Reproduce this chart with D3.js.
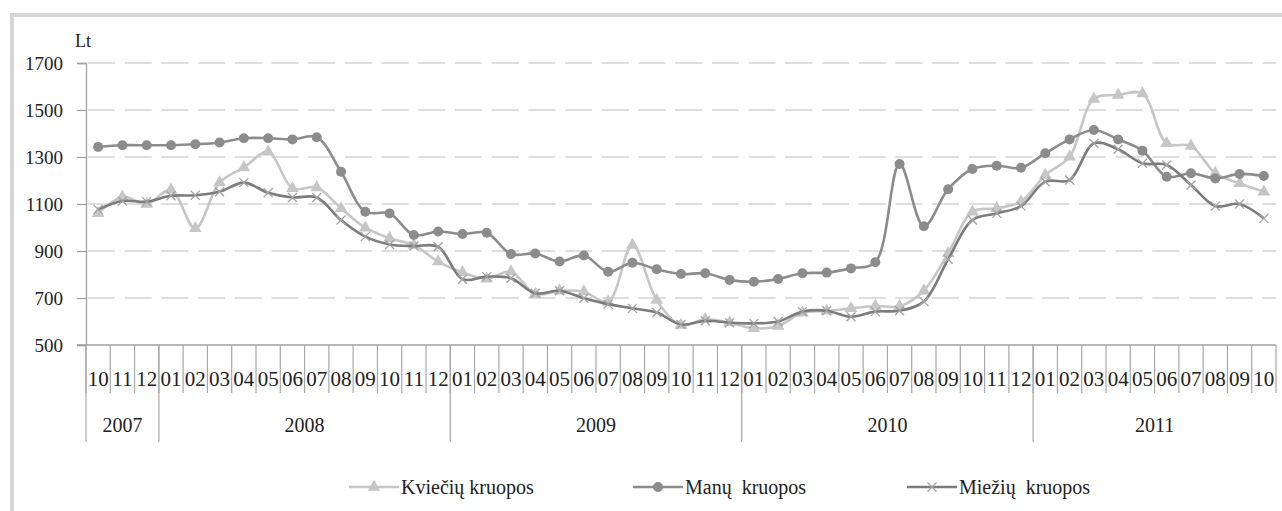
<!DOCTYPE html>
<html>
<head>
<meta charset="utf-8">
<script src="https://cdn.jsdelivr.net/npm/d3@7"></script>
<style>
  body { margin: 0; background: #fff; }
</style>
</head>
<body>
<svg width="1282" height="511"></svg>
<script>
let months = ["10","11","12",
  "01","02","03","04","05","06","07","08","09","10","11","12",
  "01","02","03","04","05","06","07","08","09","10","11","12",
  "01","02","03","04","05","06","07","08","09","10","11","12",
  "01","02","03","04","05","06","07","08","09","10"];

let years = [
  { label: "2007", start: 0, count: 3 },
  { label: "2008", start: 3, count: 12 },
  { label: "2009", start: 15, count: 12 },
  { label: "2010", start: 27, count: 12 },
  { label: "2011", start: 39, count: 10 }
];

let yTicks = [500, 700, 900, 1100, 1300, 1500, 1700];

let kvieciu = [1060, 1130, 1100, 1160, 996, 1191, 1255, 1322, 1167, 1170, 1082, 999, 954, 925, 855,
  809, 782, 812, 717, 731, 727, 684, 925, 691, 585, 609, 595,
  571, 581, 637, 645, 656, 666, 665, 731, 890, 1067, 1082, 1110,
  1223, 1301, 1547, 1564, 1570, 1358, 1347, 1231, 1188, 1152];

let manu = [1343, 1350, 1350, 1350, 1354, 1362, 1380, 1380, 1375, 1384, 1237, 1067, 1060, 968, 983,
  972, 978, 887, 889, 855, 881, 812, 850, 822, 802, 805, 777,
  769, 781, 805, 808, 826, 852, 1270, 1005, 1163, 1249, 1263, 1254,
  1316, 1375, 1415, 1375, 1327, 1216, 1231, 1209, 1228, 1219];

let miezu = [1077, 1113, 1110, 1135, 1137, 1152, 1191, 1148, 1128, 1128, 1032, 961, 928, 921, 918,
  780, 791, 784, 720, 731, 699, 674, 656, 638, 587, 603, 595,
  592, 600, 642, 646, 620, 642, 646, 685, 865, 1032, 1060, 1091,
  1195, 1202, 1358, 1333, 1273, 1266, 1181, 1091, 1100, 1039];

let series = [
  { name: "Kviečių kruopos", values: kvieciu, color: "#c6c6c6", marker: "triangle" },
  { name: "Manų  kruopos", values: manu, color: "#8c8c8c", marker: "circle" },
  { name: "Miežių  kruopos", values: miezu, color: "#7c7c7c", marker: "cross" }
];

const FONT = "'Liberation Serif', 'Times New Roman', Times, serif";

let svg = d3.select("svg");

// outer frame
svg.append("rect")
    .attr("x", 12).attr("y", 15)
    .attr("width", 1300).attr("height", 520)
    .attr("fill", "none")
    .attr("stroke", "#d6d6d6")
    .attr("stroke-width", 4);

let x = d3.scaleBand()
    .domain(d3.range(months.length))
    .range([86, 1276])
    .padding(0);

let y = d3.scaleLinear()
    .domain([500, 1700])
    .range([345, 63]);

let bw = x.bandwidth();

// grid
svg.append("g")
    .selectAll("line")
    .data(yTicks.filter(d => d > 500))
    .enter().append("line")
        .attr("x1", 88).attr("x2", 1276)
        .attr("y1", d => y(d)).attr("y2", d => y(d))
        .attr("stroke", "#d3d3d3")
        .attr("stroke-width", 1.6)
        .attr("stroke-dasharray", "27,9.7");

// y axis
let yAxis = d3.axisLeft(y)
    .tickValues(yTicks)
    .tickSize(9)
    .tickPadding(14)
    .tickFormat(d3.format("d"));

let gy = svg.append("g")
    .attr("transform", "translate(86,0)")
    .call(yAxis);
gy.select(".domain").attr("stroke", "#a0a0a0").attr("stroke-width", 1.3);
gy.selectAll(".tick line").attr("stroke", "#a0a0a0").attr("stroke-width", 1.3);
gy.selectAll(".tick text")
    .style("font-family", FONT)
    .style("font-size", "19px")
    .attr("fill", "#222");

// x axis line
svg.append("line")
    .attr("x1", 77).attr("x2", 1276)
    .attr("y1", 345).attr("y2", 345)
    .attr("stroke", "#a0a0a0").attr("stroke-width", 1.3);

// month ticks
svg.append("g")
    .selectAll("line")
    .data(d3.range(months.length + 1))
    .enter().append("line")
        .attr("x1", d => 86 + d * bw).attr("x2", d => 86 + d * bw)
        .attr("y1", 345).attr("y2", 393)
        .attr("stroke", "#a8a8a8").attr("stroke-width", 1.2);

// year separators
svg.append("g")
    .selectAll("line")
    .data(years)
    .enter().append("line")
        .attr("x1", d => x(d.start)).attr("x2", d => x(d.start))
        .attr("y1", 345).attr("y2", 442)
        .attr("stroke", "#a8a8a8").attr("stroke-width", 1.2);

svg.append("g")
    .selectAll("text")
    .data(months)
    .enter().append("text")
        .attr("x", (d, i) => x(i) + bw / 2)
        .attr("y", 386)
        .attr("text-anchor", "middle")
        .style("font-family", FONT)
        .style("font-size", "21px")
        .attr("fill", "#222")
        .text(d => d);

svg.append("g")
    .selectAll("text")
    .data(years)
    .enter().append("text")
        .attr("x", d => x(d.start) + d.count * bw / 2)
        .attr("y", 432)
        .attr("text-anchor", "middle")
        .style("font-family", FONT)
        .style("font-size", "20px")
        .attr("fill", "#222")
        .text(d => d.label);

svg.append("text")
    .attr("x", 75).attr("y", 47)
    .style("font-family", FONT)
    .style("font-size", "18px")
    .attr("fill", "#222")
    .text("Lt");

// lines
let line = d3.line()
    .x((d, i) => x(i) + bw / 2)
    .y(d => y(d))
    .curve(d3.curveCatmullRom.alpha(0.5));

function drawMarker(g, type, color, cx, cy) {
    if (type === "triangle") {
        g.append("path")
            .attr("d", d3.symbol(d3.symbolTriangle, 70)())
            .attr("transform", `translate(${cx},${cy})`)
            .attr("fill", color);
    } else if (type === "circle") {
        g.append("circle")
            .attr("cx", cx).attr("cy", cy).attr("r", 5)
            .attr("fill", color);
    } else {
        g.append("path")
            .attr("d", "M-4.5,-4.5L4.5,4.5M-4.5,4.5L4.5,-4.5")
            .attr("transform", `translate(${cx},${cy})`)
            .attr("stroke", "#a4a4a4")
            .attr("stroke-width", 1.3);
    }
}

series.forEach(s => {
    svg.append("path")
        .datum(s.values)
        .attr("fill", "none")
        .attr("stroke", s.color)
        .attr("stroke-width", 2.6)
        .attr("d", line);
    let g = svg.append("g");
    s.values.forEach((v, i) => drawMarker(g, s.marker, s.color, x(i) + bw / 2, y(v)));
});

// legend
let legendX = [349, 633, 907];
series.forEach((s, i) => {
    let g = svg.append("g").attr("transform", `translate(${legendX[i]},487)`);
    g.append("line")
        .attr("x1", 0).attr("x2", 50)
        .attr("stroke", s.color).attr("stroke-width", 2.6);
    drawMarker(g, s.marker, s.color, 25, 0);
    g.append("text")
        .attr("x", 52).attr("y", 7)
        .style("font-family", FONT)
        .style("font-size", "20px")
        .style("white-space", "pre")
        .attr("fill", "#222")
        .text(s.name);
});
</script>
</body>
</html>
